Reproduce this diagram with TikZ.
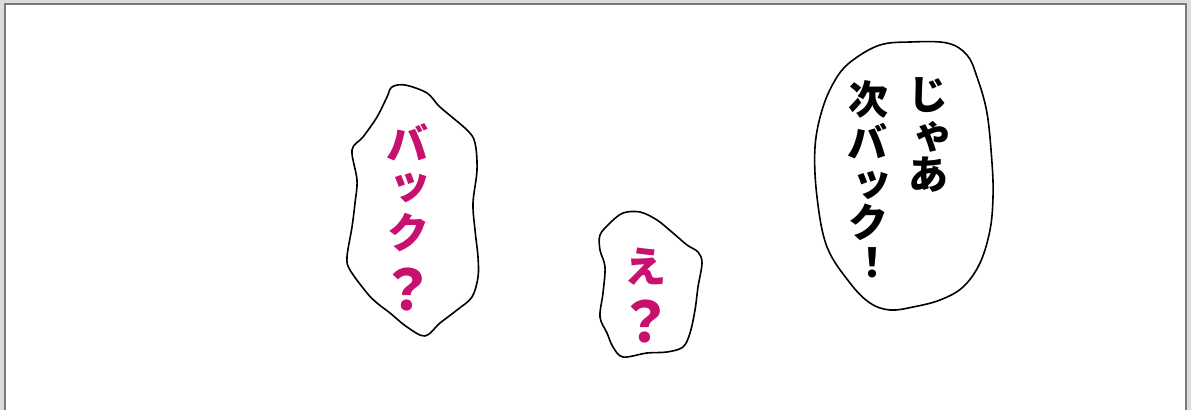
\documentclass[tikz,border=0pt]{standalone}
\usepackage{fontspec}
\newfontfamily\jpblack{Noto Sans CJK JP Black}
\usepackage{tikz}
\definecolor{panelGray}{HTML}{DCDCDC}
\definecolor{frameGray}{HTML}{7A7A7A}
\definecolor{shoutPink}{HTML}{C8106E}
\tikzset{
	bubble/.style={%
		draw=black,
		fill=white,
		line width=1.6pt,
		line join=round
	},
	blackText/.style={%
		font=\jpblack\fontsize{40}{42}\selectfont,
		text=black,
		inner sep=0pt
	},
	pinkText/.style={%
		font=\jpblack\fontsize{42}{44}\selectfont,
		text=shoutPink,
		inner sep=0pt
	},
	pinkMark/.style={%
		pinkText,
		font=\jpblack\fontsize{56}{58}\selectfont
	}
}

\begin{document}
\begin{tikzpicture}[x=1pt, y=-1pt]
	\useasboundingbox (0,0) rectangle (1191,410);
	\fill[panelGray] (0,0) rectangle (1191,410);
	\fill[white] (5,4) rectangle (1186,410);
	\draw[frameGray, line width=2pt] (5,410) -- (5,4) -- (1186,4) -- (1186,410);

	% left bubble
	\draw[bubble] plot[smooth cycle, tension=0.55] coordinates {
		(392,87) (405,85) (427,93) (440,107) (467,130) (475,143)
		(477,170) (473,203) (475,230) (478,257) (478,277) (472,297)
		(457,310) (440,323) (425,336) (407,327) (390,313) (377,303)
		(367,293) (350,270) (347,257) (352,227) (355,203) (357,180)
		(352,150) (363,137) (377,117) (387,97)};
	\foreach \ch/\x/\y in {バ/407/142, ッ/410/188, ク/408/232} {
		\node[pinkText] (left\y) at (\x,\y) {\ch};
	}
	\node[pinkMark] (leftMark) at (407,290) {？};

	% middle bubble
	\draw[bubble] plot[smooth cycle, tension=0.55] coordinates {
		(600,235) (610,223) (623,213) (640,212) (657,220) (673,233)
		(687,245) (698,252) (702,263) (698,287) (695,310) (690,333)
		(683,347) (667,352) (647,353) (623,357) (613,347) (607,333)
		(600,317) (603,293) (605,267) (600,250)};
	\node[pinkText] (midChar) at (645,267) {え};
	\node[pinkMark] (midMark) at (645,322) {？};

	% right bubble
	\draw[bubble] plot[smooth cycle, tension=0.6] coordinates {
		(880,45) (910,42) (947,43) (967,55) (977,77) (987,113)
		(992,163) (993,197) (990,230) (980,263) (963,287) (940,300)
		(913,307) (890,310) (870,303) (850,283) (827,247) (817,197)
		(815,147) (823,107) (837,77) (853,60)};
	\foreach \ch/\x/\y in {じ/928/95, ゃ/933/137, あ/928/175} {
		\node[blackText] (colA\y) at (\x,\y) {\ch};
	}
	\foreach \ch/\x/\y in {次/868/99, バ/867/141, ッ/872/185, ク/868/222, ！/872/263} {
		\node[blackText] (colB\y) at (\x,\y) {\ch};
	}
\end{tikzpicture}
\end{document}
